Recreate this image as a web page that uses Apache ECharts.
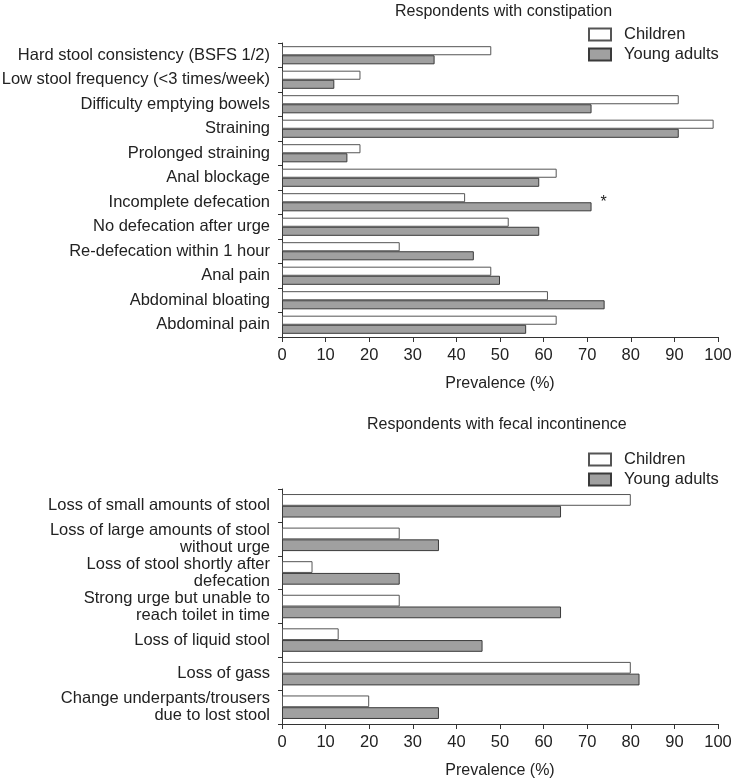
<!DOCTYPE html>
<html>
<head>
<meta charset="utf-8">
<script src="https://cdn.jsdelivr.net/npm/echarts@6/dist/echarts.min.js"></script>
<style>
html,body{margin:0;padding:0;background:#fff;}
#c{width:733px;height:780px;}
</style>
</head>
<body>
<div id="c"></div>
<script>
// ---- Data ----
const constipationCategories = [
  'Hard stool consistency (BSFS 1/2)',
  'Low stool frequency (<3 times/week)',
  'Difficulty emptying bowels',
  'Straining',
  'Prolonged straining',
  'Anal blockage',
  'Incomplete defecation',
  'No defecation after urge',
  'Re-defecation within 1 hour',
  'Anal pain',
  'Abdominal bloating',
  'Abdominal pain'
];
const constipationChildren = [48, 18, 91, 99, 18, 63, 42, 52, 27, 48, 61, 63];
const constipationYoungAdults = [35, 12, 71, 91, 15, 59, 71, 59, 44, 50, 74, 56];
const constipationSignificant = ['Incomplete defecation'];

const incontinenceCategories = [
  'Loss of small amounts of stool',
  'Loss of large amounts of stool\nwithout urge',
  'Loss of stool shortly after\ndefecation',
  'Strong urge but unable to\nreach toilet in time',
  'Loss of liquid stool',
  'Loss of gass',
  'Change underpants/trousers\ndue to lost stool'
];
const incontinenceChildren = [80, 27, 7, 27, 13, 80, 20];
const incontinenceYoungAdults = [64, 36, 27, 64, 46, 82, 36];

const xTicks = { min: 0, max: 100, interval: 10 };
const seriesNames = ['Children', 'Young adults'];
const panelTitles = ['Respondents with constipation', 'Respondents with fecal incontinence'];
const axisTitle = 'Prevalence (%)';

// ---- Styles ----
const FONT = 'Liberation Sans, Arial, sans-serif';
const TXT = '#222';
const childStyle = { color: '#ffffff', borderColor: '#555555', borderWidth: 1 };
const adultStyle = { color: '#a0a0a0', borderColor: '#3a3a3a', borderWidth: 1 };

function xAxisCfg(gridIndex) {
  return {
    type: 'value', gridIndex: gridIndex,
    min: xTicks.min, max: xTicks.max, interval: xTicks.interval,
    name: axisTitle, nameLocation: 'middle', nameGap: 39,
    nameTextStyle: { fontFamily: FONT, fontSize: 16, color: TXT },
    axisLine: { show: true, lineStyle: { color: '#333', width: 1 } },
    axisTick: { show: true, length: 5, lineStyle: { color: '#333' } },
    axisLabel: { fontFamily: FONT, fontSize: 16.5, color: TXT, margin: 10 },
    splitLine: { show: false }
  };
}
function yAxisCfg(gridIndex, cats) {
  return {
    type: 'category', gridIndex: gridIndex, data: cats, inverse: true,
    axisLine: { show: true, lineStyle: { color: '#333', width: 1 } },
    axisTick: { show: true, length: 4, lineStyle: { color: '#333' } },
    axisLabel: { fontFamily: FONT, fontSize: 16.5, color: TXT, margin: 12, lineHeight: 17, align: 'right' },
    splitLine: { show: false }
  };
}

const adultTopData = constipationYoungAdults.map((v, i) => {
  if (constipationSignificant.indexOf(constipationCategories[i]) >= 0) {
    return { value: v, label: { show: true, formatter: '*', position: 'right', distance: 9, offset: [0, -4], fontFamily: FONT, fontSize: 16, color: TXT } };
  }
  return v;
});

const legendBase = {
  data: seriesNames, orient: 'vertical', left: 588, itemWidth: 22, itemHeight: 12, itemGap: 3,
  icon: 'rect', padding: 0, selectedMode: false,
  textStyle: { fontFamily: FONT, fontSize: 16.5, color: TXT, padding: [0, 0, 0, 8] }
};

const option = {
  animation: false,
  backgroundColor: '#fff',
  title: [
    { text: panelTitles[0], left: 395, top: 4, padding: 0, textStyle: { fontFamily: FONT, fontSize: 16, fontWeight: 'normal', color: TXT } },
    { text: panelTitles[1], left: 367, top: 417, padding: 0, textStyle: { fontFamily: FONT, fontSize: 16, fontWeight: 'normal', color: TXT } }
  ],
  legend: [
    Object.assign({}, legendBase, { top: 26 }),
    Object.assign({}, legendBase, { top: 451 })
  ],
  grid: [
    { left: 282, right: 15, top: 43, height: 294, outerBoundsMode: 'none' },
    { left: 282, right: 15, top: 489, height: 235, outerBoundsMode: 'none' }
  ],
  xAxis: [xAxisCfg(0), xAxisCfg(1)],
  yAxis: [yAxisCfg(0, constipationCategories), yAxisCfg(1, incontinenceCategories)],
  series: [
    { name: seriesNames[0], type: 'bar', xAxisIndex: 0, yAxisIndex: 0, data: constipationChildren,
      itemStyle: childStyle, barGap: '0%', barCategoryGap: '26%' },
    { name: seriesNames[1], type: 'bar', xAxisIndex: 0, yAxisIndex: 0, data: adultTopData,
      itemStyle: adultStyle, barGap: '0%', barCategoryGap: '26%' },
    { name: seriesNames[0], type: 'bar', xAxisIndex: 1, yAxisIndex: 1, data: incontinenceChildren,
      itemStyle: childStyle, barGap: '0%', barCategoryGap: '30%' },
    { name: seriesNames[1], type: 'bar', xAxisIndex: 1, yAxisIndex: 1, data: incontinenceYoungAdults,
      itemStyle: adultStyle, barGap: '0%', barCategoryGap: '30%' }
  ]
};

const chart = echarts.init(document.getElementById('c'), null, { renderer: 'canvas' });
chart.setOption(option);
</script>
</body>
</html>
